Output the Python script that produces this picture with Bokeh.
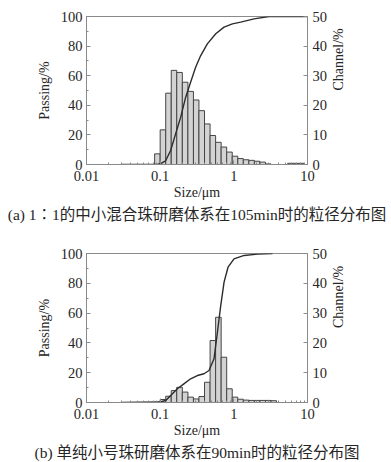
import math
from bokeh.plotting import figure
from bokeh.models import (Range1d, LinearAxis, FixedTicker, CustomJSTickFormatter,
                          Title, ColumnDataSource)
from bokeh.layouts import column
from bokeh.embed import file_html
from bokeh.resources import INLINE

# ---- data ----
bin_edges = [0.0841, 0.1, 0.119, 0.1414, 0.168, 0.2, 0.238, 0.283, 0.336, 0.4,
             0.476, 0.566, 0.673, 0.8, 0.951, 1.131, 1.345, 1.6, 1.9, 2.26,
             2.69, 3.2, 3.8, 4.52, 5.38, 6.4, 7.61, 9.05]

channel_a = [3.6, 11.7, 24.1, 31.8, 31.1, 27.8, 24.7, 21.8, 18.2, 13.7,
             9.8, 7.5, 5.9, 4.2, 2.8, 2.0, 1.6, 1.4, 1.1, 0.8,
             0.2, 0.0, 0.0, 0.0, 0.4, 0.4, 0.4]
size_a = [0.03, 0.0914, 0.1, 0.1186, 0.1387, 0.162, 0.19, 0.222, 0.259, 0.303,
          0.355, 0.437, 0.568, 0.736, 0.957, 1.24, 1.88, 3.0, 10.0]
passing_a = [0.0, 0.0, 0.5, 2.5, 9.5, 20.7, 32.0, 45.5, 55.6, 65.7,
             73.6, 81.5, 88.3, 92.8, 95.0, 96.2, 98.4, 100.0, 100.0]

channel_b = [0.0, 1.0, 2.1, 4.0, 5.1, 3.5, 1.8, 1.2, 2.0, 6.8,
             20.8, 28.6, 15.2, 4.6, 1.8, 1.1, 0.8, 0.7, 0.7, 0.7,
             0.7, 0.6, 0.0, 0.0, 0.0, 0.0, 0.0]
size_b = [0.03, 0.1, 0.12, 0.139, 0.171, 0.21, 0.259, 0.32, 0.394, 0.46,
          0.538, 0.598, 0.664, 0.737, 0.834, 1.006, 1.38, 2.1, 3.35]
passing_b = [0.0, 0.3, 1.5, 4.7, 9.2, 12.5, 15.9, 18.1, 19.3, 21.5,
             29.3, 47.0, 65.0, 80.8, 90.8, 96.4, 98.7, 99.6, 100.0]

x_ticks = [0.01, 0.1, 1, 10]
passing_ticks = [0, 20, 40, 60, 80, 100]
passing_minor = [10, 30, 50, 70, 90]
channel_ticks = [0, 10, 20, 30, 40, 50]

captions = ["(a) 1\u22361的中小混合珠研磨体系在105min时的粒径分布图",
            "(b) 单纯小号珠研磨体系在90min时的粒径分布图"]

SERIF = "Liberation Serif"
CAP_FONT = "Liberation Serif, DejaVu Serif, Noto Sans CJK SC"
TXT = "#262626"
AX = "#8a8a8a"


def panel(channel, size, passing, caption, height, btop, bbottom):
    p = figure(width=391, height=height, x_axis_type="log",
               x_range=Range1d(0.01, 10), y_range=Range1d(0, 100),
               output_backend="svg", toolbar_location=None,
               min_border_left=86, min_border_right=84,
               min_border_top=btop, min_border_bottom=bbottom)
    p.extra_y_ranges = {"ch": Range1d(0, 50)}
    p.grid.visible = False
    p.outline_line_color = AX
    p.background_fill_color = "white"
    p.border_fill_color = "white"

    keep = [i for i, v in enumerate(channel) if v > 0]
    src = ColumnDataSource(dict(
        left=[bin_edges[i] for i in keep],
        right=[bin_edges[i + 1] for i in keep],
        top=[channel[i] for i in keep],
    ))
    p.quad(left="left", right="right", bottom=0, top="top", source=src,
           y_range_name="ch", fill_color="#d3d3d3", line_color="#454545",
           line_width=1)
    p.line(size, passing, line_color="#2c2c2c", line_width=1.4)

    xa = p.xaxis[0]
    xa.ticker = FixedTicker(ticks=x_ticks,
                            minor_ticks=[d * m for d in x_ticks[:-1] for m in range(2, 10)])
    xa.formatter = CustomJSTickFormatter(code="return String(tick)")
    xa.axis_label = "Size/\u03bcm"

    ya = p.yaxis[0]
    ya.ticker = FixedTicker(ticks=passing_ticks, minor_ticks=passing_minor)
    ya.axis_label = "Passing/%"

    ra = LinearAxis(y_range_name="ch", ticker=FixedTicker(ticks=channel_ticks),
                    axis_label="Channel/%")
    ra.axis_label_orientation = math.pi / 2
    p.add_layout(ra, "right")

    for ax in (xa, ya, ra):
        ax.axis_line_color = AX
        ax.major_tick_line_color = AX
        ax.minor_tick_line_color = AX
        ax.major_tick_in = 4
        ax.major_tick_out = 0
        ax.minor_tick_in = 2
        ax.minor_tick_out = 0
        ax.major_label_text_font = SERIF
        ax.major_label_text_font_size = "14.5px"
        ax.major_label_text_color = TXT
        ax.axis_label_text_font = SERIF
        ax.axis_label_text_font_size = "14px"
        ax.axis_label_text_font_style = "normal"
        ax.axis_label_text_color = TXT
        ax.axis_label_standoff = 6
        ax.major_label_standoff = 4
    xa.major_label_standoff = 6
    xa.axis_label_standoff = 1
    ra.major_label_standoff = 5
    ra.axis_label_standoff = 8
    ra.minor_tick_line_color = None

    t = Title(text=caption, align="center", text_font=CAP_FONT,
              text_font_size="15.5px", text_font_style="normal", text_color=TXT,
              standoff=2)
    p.add_layout(t, "below")
    return p


pa = panel(channel_a, size_a, passing_a, captions[0], 230, 16, 66)
pb = panel(channel_b, size_b, passing_b, captions[1], 232, 23, 60)
lay = column(pa, pb, spacing=0)

open("out.html", "w").write(file_html(lay, INLINE))
